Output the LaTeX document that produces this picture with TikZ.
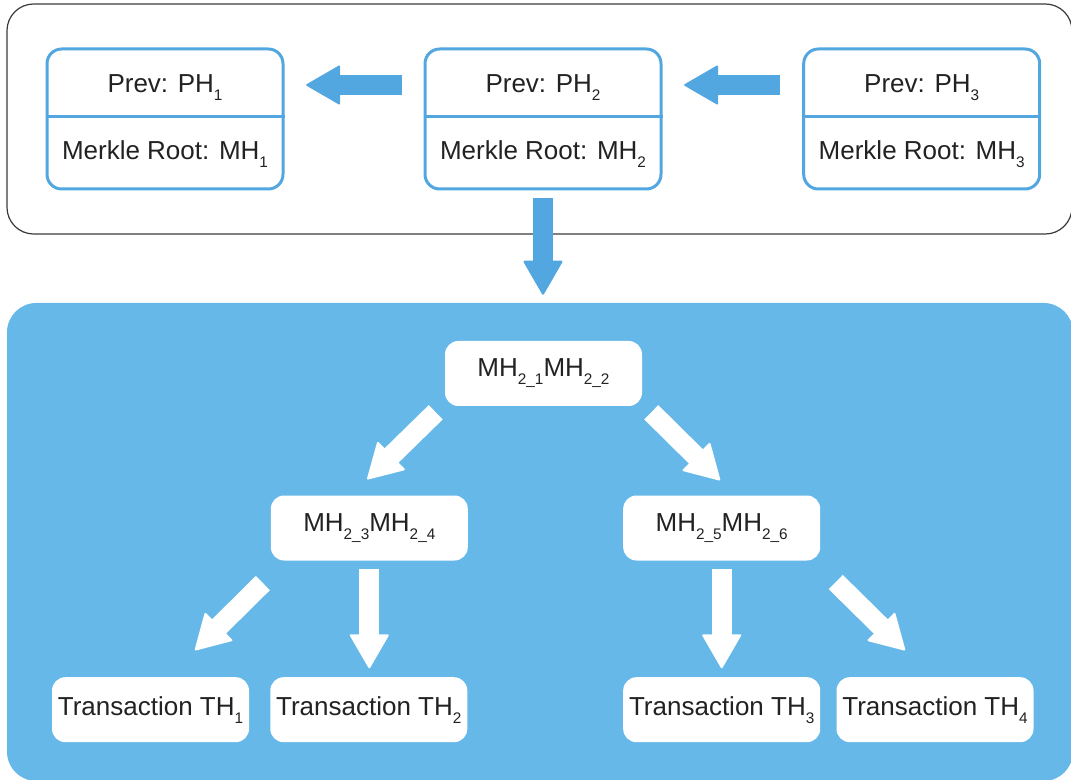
\documentclass[tikz,border=0pt]{standalone}
\usepackage{fontspec}
\setmainfont{Liberation Sans}
\usetikzlibrary{arrows.meta,calc}
\definecolor{bblue}{HTML}{53A7E0}
\definecolor{pblue}{HTML}{66B8E8}
\definecolor{txtc}{HTML}{222222}
\definecolor{framec}{HTML}{3A3A3A}
\newcommand\mysub[1]{\raisebox{-6pt}{\fontsize{11.5}{12}\selectfont #1}}
\tikzset{
  txtfont/.style={font=\fontsize{19.5}{22}\selectfont, text=txtc},
  blk/.style={draw=bblue, line width=2.25pt, rounded corners=11pt, fill=white,
    minimum width=177pt, minimum height=105pt, inner sep=0pt},
  divider/.style={draw=bblue, line width=2.25pt},
  lbl/.style={txtfont, inner sep=0pt, anchor=base},
  wbox/.style={fill=white, rounded corners=10pt, minimum width=147.75pt,
    minimum height=48.75pt, inner sep=0pt, txtfont},
  panelbox/.style={fill=pblue, rounded corners=22pt, minimum width=799.5pt,
    minimum height=358.5pt, inner sep=0pt},
  fat/.style={line width=15pt, line cap=butt,
    -{Triangle[length=26.25pt,width=30pt,round,line width=1.5pt]}},
  fatb/.style={fat, draw=bblue, color=bblue},
  fatw/.style={fat, draw=white, color=white},
}
\begin{document}
\begin{tikzpicture}[x=0.75pt,y=-0.75pt]
\useasboundingbox (0,0) rectangle (1071,780);
% top frame
\draw[framec, line width=0.9pt, rounded corners=20pt] (7,4) rectangle (1072,234);
% lower panel
\node[panelbox] (panel) at (540,542) {};

% blocks
\node[blk] (b1) at (165,119) {};
\node[blk] (b2) at (543,119) {};
\node[blk] (b3) at (921.7,119) {};
\foreach \b in {b1,b2,b3}{
  \draw[divider] (\b.west |- 0,116.7) -- (\b.east |- 0,116.7);
}
\node[lbl] (b1p) at (165,92.7) {Prev: PH\mysub{1}};
\node[lbl] (b1m) at (165,160) {Merkle Root: MH\mysub{1}};
\node[lbl] (b2p) at (543,92.7) {Prev: PH\mysub{2}};
\node[lbl] (b2m) at (543,160) {Merkle Root: MH\mysub{2}};
\node[lbl] (b3p) at (921.7,92.7) {Prev: PH\mysub{3}};
\node[lbl] (b3m) at (921.7,160) {Merkle Root: MH\mysub{3}};

% blue arrows
\draw[fatb, shorten <=16.3pt, shorten >=16.3pt] ([yshift=25.5pt]b2.west) -- ([yshift=25.5pt]b1.east);
\draw[fatb, shorten <=16.3pt, shorten >=16.3pt] ([yshift=25.5pt]b3.west) -- ([yshift=25.5pt]b2.east);
\draw[fatb, shorten <=5.8pt, shorten >=6pt] (b2.south) -- (b2.south |- panel.north);

% tree nodes
\node[wbox] (root) at (543.5,373.5) {MH\mysub{2\_1}MH\mysub{2\_2}};
\node[wbox] (m1) at (369.3,528) {MH\mysub{2\_3}MH\mysub{2\_4}};
\node[wbox] (m2) at (721.7,528) {MH\mysub{2\_5}MH\mysub{2\_6}};
\node[wbox] (t1) at (150.5,709.7) {Transaction TH\mysub{1}};
\node[wbox] (t2) at (368.8,709.7) {Transaction TH\mysub{2}};
\node[wbox] (t3) at (721.7,709.7) {Transaction TH\mysub{3}};
\node[wbox] (t4) at (935,709.7) {Transaction TH\mysub{4}};

% white arrows
\coordinate (r1s) at ($(root.south west)+(-9,6)$);
\coordinate (r1e) at ($(m1.north)+(-2,-16)$);
\coordinate (r2s) at ($(root.south east)+(9,6)$);
\coordinate (r2e) at ($(m2.north)+(-1.7,-15)$);
\coordinate (l1s) at ($(m1.south west)+(-7.7,22.3)$);
\coordinate (l1e) at ($(t1.north)+(44.5,-26.7)$);
\coordinate (l4s) at ($(m2.south east)+(15.3,21.3)$);
\coordinate (l4e) at ($(t4.north)+(-30,-26.7)$);
\draw[fatw] (r1s) -- (r1e);
\draw[fatw] (r2s) -- (r2e);
\draw[fatw] (l1s) -- (l1e);
\draw[fatw, shorten <=6.2pt, shorten >=6.5pt] (m1.south) -- (m1.south |- t2.north);
\draw[fatw, shorten <=6.2pt, shorten >=6.5pt] (m2.south) -- (m2.south |- t3.north);
\draw[fatw] (l4s) -- (l4e);
\end{tikzpicture}
\end{document}
